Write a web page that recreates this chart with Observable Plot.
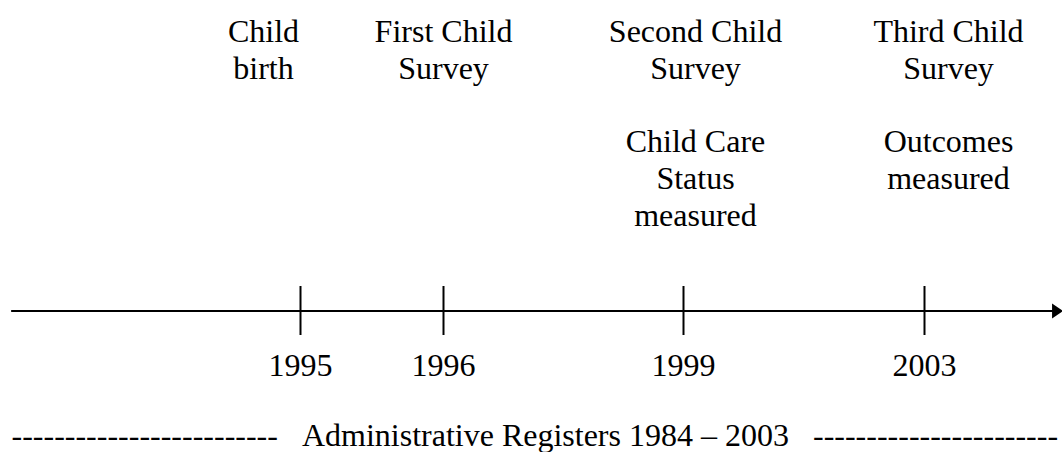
<!DOCTYPE html>
<html><head><meta charset="utf-8">
<script src="https://cdn.jsdelivr.net/npm/d3@7"></script>
<script src="https://cdn.jsdelivr.net/npm/@observablehq/plot@0.6"></script>
<style>body{margin:0;background:#fff}</style>
</head><body><div id="chart"></div>
<script>
// ---- data ----
const years = [1995, 1996, 1999, 2003];
const yearLabels = ["1995", "1996", "1999", "2003"];
const eventLabels = ["Child\nbirth", "First Child\nSurvey", "Second Child\nSurvey", "Third Child\nSurvey"];
const measureLabels = ["", "", "Child Care\nStatus\nmeasured", "Outcomes\nmeasured"];
const timelineStart = 1992.98;
const timelineEnd = 2005.2;
const registerLabel = "Administrative Registers 1984 \u2013 2003";

// ---- layout ----
const labelShift = [-37, 0, 12, 24];
const font = "Liberation Serif, Times New Roman, serif";
const fs = 32, lh = 1.17;
const nb = "\u00a0\u00a0\u00a0";
const registerLine = "-".repeat(25) + nb + registerLabel + nb + "-".repeat(23);

const arrowHead = {
  draw(ctx) { ctx.moveTo(6, 0); ctx.lineTo(-5, -7.5); ctx.lineTo(-5, 7.5); ctx.closePath(); }
};

const idx = years.map((_, i) => i);
const marks = [
  Plot.ruleY([0], {x1: timelineStart, x2: timelineEnd, stroke: "black", strokeWidth: 2}),
  Plot.dot([timelineEnd], {x: d => d, y: 0, symbol: arrowHead, fill: "black", r: 5}),
  Plot.ruleX(years, {x: d => d, y1: -1, y2: 1, stroke: "black", strokeWidth: 2}),
  Plot.text(idx, {x: i => years[i], text: i => yearLabels[i], frameAnchor: "top", lineAnchor: "top",
    dy: 352.5, fontSize: fs, fontFamily: font, fill: "black"}),
  ...idx.map(i => Plot.text([i], {x: j => years[j], text: j => eventLabels[j], frameAnchor: "top",
    lineAnchor: "top", dy: 14.8, dx: labelShift[i], fontSize: fs, lineHeight: lh, fontFamily: font, fill: "black"})),
  ...idx.filter(i => measureLabels[i]).map(i => Plot.text([i], {x: j => years[j], text: j => measureLabels[j],
    frameAnchor: "top", lineAnchor: "top", dy: 124.5, dx: labelShift[i], fontSize: fs, lineHeight: lh,
    fontFamily: font, fill: "black"})),
  Plot.text([registerLine], {text: d => d, frameAnchor: "top-left", textAnchor: "start", lineAnchor: "top",
    dx: 11, dy: 422.5, fontSize: fs, fontFamily: font, fill: "black"})
];

const chart = Plot.plot({
  width: 1062, height: 452,
  marginTop: 0, marginRight: 0, marginBottom: 0, marginLeft: 0,
  style: {fontFamily: font, background: "white", overflow: "visible"},
  x: {type: "linear", domain: years, range: [300, 443, 683, 924], axis: null},
  y: {type: "linear", domain: [-1, 1], range: [335, 286], axis: null},
  marks
});
document.getElementById("chart").appendChild(chart);
</script>
</body></html>
